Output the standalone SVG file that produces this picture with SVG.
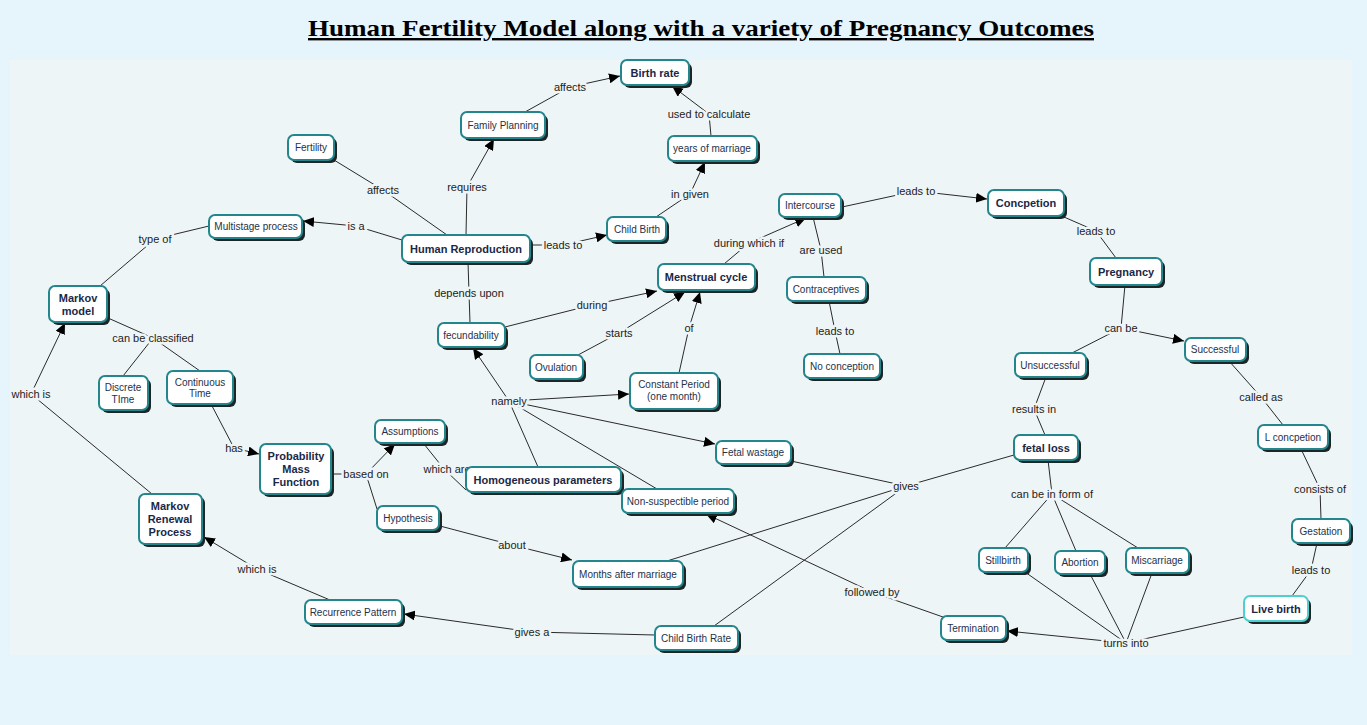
<svg xmlns="http://www.w3.org/2000/svg" width="1367" height="725" viewBox="0 0 1367 725">
<defs>
<marker id="ah" markerUnits="userSpaceOnUse" markerWidth="12" markerHeight="10" refX="11" refY="5" orient="auto"><path d="M0,0 L11,5 L0,10 z" fill="#000"/></marker>
<style>
.sh{fill:#1c2626}
.nd{fill:#fff;stroke:#23868c;stroke-width:2}
.lv{stroke:#4fcfd0}
.t{font-family:"Liberation Sans",Arial,sans-serif;font-size:10px;fill:#24324a;text-anchor:middle}
.b{font-family:"Liberation Sans",Arial,sans-serif;font-size:11px;font-weight:bold;fill:#1a2846;text-anchor:middle}
.c line,.c path{stroke:#2a2a2a;stroke-width:1;fill:none}
.a{marker-end:url(#ah)}
.l{font-family:"Liberation Sans",Arial,sans-serif;font-size:11px;fill:#222;text-anchor:middle;stroke:#eef5f7;stroke-width:5;stroke-linejoin:round;paint-order:stroke}
</style>
</defs>
<rect x="0" y="0" width="1367" height="725" fill="#e6f4fc"/>
<rect x="10" y="60" width="1342" height="595" fill="#eef5f7"/>
<text x="701" y="36" font-family="'Liberation Serif',serif" font-size="24" font-weight="bold" text-anchor="middle" text-decoration="underline" textLength="786" lengthAdjust="spacingAndGlyphs" fill="#000">Human Fertility Model along with a variety of Pregnancy Outcomes</text>

<g id="connectors" class="c">
<line x1="525" y1="112" x2="570" y2="87"/><line class="a" x1="570" y1="87" x2="620" y2="76"/>
<line x1="334" y1="160" x2="383" y2="190"/><line x1="383" y1="190" x2="447" y2="235"/>
<line x1="466" y1="235" x2="467" y2="187"/><line class="a" x1="467" y1="187" x2="494" y2="139"/>
<line x1="711" y1="136" x2="709" y2="114"/><line class="a" x1="709" y1="114" x2="672" y2="86"/>
<line x1="656" y1="217" x2="690" y2="194"/><line class="a" x1="690" y1="194" x2="705" y2="162"/>
<line x1="402" y1="240" x2="356" y2="226"/><line class="a" x1="356" y1="226" x2="303" y2="221"/>
<line x1="530" y1="245" x2="563" y2="245"/><line class="a" x1="563" y1="245" x2="607" y2="235"/>
<line x1="209" y1="226" x2="155" y2="239"/><line x1="155" y1="239" x2="100" y2="286"/>
<line x1="468" y1="262" x2="469" y2="293"/><line x1="469" y1="293" x2="470" y2="323"/>
<line x1="505" y1="327" x2="592" y2="305"/><line class="a" x1="592" y1="305" x2="657" y2="291"/>
<line x1="578" y1="355" x2="619" y2="333"/><line class="a" x1="619" y1="333" x2="685" y2="292"/>
<line x1="679" y1="373" x2="689" y2="328"/><line class="a" x1="689" y1="328" x2="700" y2="292"/>
<line x1="724" y1="264" x2="749" y2="243"/><line class="a" x1="749" y1="243" x2="806" y2="218"/>
<line x1="813" y1="217" x2="821" y2="250"/><line x1="821" y1="250" x2="824" y2="277"/>
<line x1="842" y1="207" x2="916" y2="191"/><line class="a" x1="916" y1="191" x2="987" y2="199"/>
<line x1="829" y1="301" x2="835" y2="331"/><line x1="835" y1="331" x2="840" y2="354"/>
<line x1="1064" y1="217" x2="1096" y2="231"/><line x1="1096" y1="231" x2="1116" y2="258"/>
<line x1="1125" y1="285" x2="1121" y2="328"/><line class="a" x1="1121" y1="328" x2="1184" y2="341"/><line x1="1121" y1="328" x2="1072" y2="353"/>
<line x1="1046" y1="377" x2="1034" y2="409"/><line x1="1034" y1="409" x2="1045" y2="435"/>
<line x1="1229" y1="361" x2="1261" y2="397"/><line x1="1261" y1="397" x2="1283" y2="425"/>
<line x1="1301" y1="449" x2="1320" y2="489"/><line x1="1320" y1="489" x2="1321" y2="519"/>
<line x1="1317" y1="543" x2="1311" y2="570"/><line x1="1311" y1="570" x2="1292" y2="596"/>
<line x1="108" y1="318" x2="153" y2="338"/><line x1="153" y1="338" x2="123" y2="376"/><line x1="153" y1="338" x2="200" y2="371"/>
<line x1="211" y1="404" x2="234" y2="448"/><line class="a" x1="234" y1="448" x2="259" y2="454"/>
<line x1="152" y1="494" x2="31" y2="394"/><line class="a" x1="31" y1="394" x2="65" y2="323"/>
<line x1="332" y1="474" x2="366" y2="474"/><line class="a" x1="366" y1="474" x2="395" y2="444"/><line x1="366" y1="474" x2="377" y2="509"/>
<line x1="424" y1="444" x2="444" y2="469"/><line x1="444" y1="469" x2="466" y2="490"/>
<line x1="538" y1="467" x2="509" y2="401"/><line class="a" x1="509" y1="401" x2="473" y2="348"/><line class="a" x1="509" y1="401" x2="629" y2="394"/><line class="a" x1="509" y1="401" x2="715" y2="444"/><line x1="509" y1="401" x2="657" y2="489"/>
<line x1="440" y1="526" x2="512" y2="545"/><line class="a" x1="512" y1="545" x2="572" y2="560"/>
<line x1="791" y1="461" x2="906" y2="486"/><line x1="1014" y1="455" x2="906" y2="486"/><line x1="906" y1="486" x2="667" y2="561"/><line x1="906" y1="486" x2="714" y2="626"/>
<line x1="943" y1="617" x2="872" y2="592"/><line class="a" x1="872" y1="592" x2="706" y2="514"/>
<line x1="655" y1="635" x2="532" y2="632"/><line class="a" x1="532" y1="632" x2="404" y2="614"/>
<line x1="330" y1="600" x2="257" y2="569"/><line class="a" x1="257" y1="569" x2="204" y2="537"/>
<line x1="1048" y1="460" x2="1052" y2="494"/><line x1="1052" y1="494" x2="1005" y2="548"/><line x1="1052" y1="494" x2="1076" y2="551"/><line x1="1052" y1="494" x2="1138" y2="548"/>
<line x1="1025" y1="572" x2="1126" y2="643"/><line x1="1090" y1="574" x2="1126" y2="643"/><line x1="1152" y1="573" x2="1126" y2="643"/><line x1="1244" y1="617" x2="1126" y2="643"/><line class="a" x1="1126" y1="643" x2="1007" y2="631"/>
</g>

<g id="labels">
<text class="l" x="570" y="91">affects</text>
<text class="l" x="383" y="194">affects</text>
<text class="l" x="467" y="191">requires</text>
<text class="l" x="709" y="118">used to calculate</text>
<text class="l" x="690" y="198">in given</text>
<text class="l" x="356" y="230">is a</text>
<text class="l" x="563" y="249">leads to</text>
<text class="l" x="155" y="243">type of</text>
<text class="l" x="469" y="297">depends upon</text>
<text class="l" x="592" y="309">during</text>
<text class="l" x="619" y="337">starts</text>
<text class="l" x="689" y="332">of</text>
<text class="l" x="749" y="247">during which if</text>
<text class="l" x="821" y="254">are used</text>
<text class="l" x="916" y="195">leads to</text>
<text class="l" x="835" y="335">leads to</text>
<text class="l" x="1096" y="235">leads to</text>
<text class="l" x="1121" y="332">can be</text>
<text class="l" x="1034" y="413">results in</text>
<text class="l" x="1261" y="401">called as</text>
<text class="l" x="1320" y="493">consists of</text>
<text class="l" x="1311" y="574">leads to</text>
<text class="l" x="153" y="342">can be classified</text>
<text class="l" x="234" y="452">has</text>
<text class="l" x="31" y="398">which is</text>
<text class="l" x="366" y="478">based on</text>
<text class="l" x="447" y="473">which are</text>
<text class="l" x="509" y="405">namely</text>
<text class="l" x="512" y="549">about</text>
<text class="l" x="906" y="490">gives</text>
<text class="l" x="872" y="596">followed by</text>
<text class="l" x="532" y="636">gives a</text>
<text class="l" x="257" y="573">which is</text>
<text class="l" x="1052" y="498">can be in form of</text>
<text class="l" x="1126" y="647">turns into</text>
</g>

<g id="n1"><rect class="sh" x="624" y="63" width="68" height="25" rx="6"/><rect class="nd" x="621" y="60" width="68" height="25" rx="6"/><text class="b" x="655" y="76.5">Birth rate</text></g>
<g id="n2"><rect class="sh" x="464" y="115" width="84" height="26" rx="6"/><rect class="nd" x="461" y="112" width="84" height="26" rx="6"/><text class="t" x="503" y="128.5">Family Planning</text></g>
<g id="n3"><rect class="sh" x="291" y="138" width="46" height="25" rx="6"/><rect class="nd" x="288" y="135" width="46" height="25" rx="6"/><text class="t" x="311" y="151">Fertility</text></g>
<g id="n4"><rect class="sh" x="671" y="139" width="89" height="25" rx="6"/><rect class="nd" x="668" y="136" width="89" height="25" rx="6"/><text class="t" x="712" y="152">years of marriage</text></g>
<g id="n5"><rect class="sh" x="212" y="218" width="93" height="23" rx="6"/><rect class="nd" x="209" y="215" width="93" height="23" rx="6"/><text class="t" x="256" y="230">Multistage process</text></g>
<g id="n6"><rect class="sh" x="405" y="238" width="128" height="27" rx="6"/><rect class="nd" x="402" y="235" width="128" height="27" rx="6"/><text class="b" x="466" y="252.5">Human Reproduction</text></g>
<g id="n7"><rect class="sh" x="610" y="220" width="59" height="24" rx="6"/><rect class="nd" x="607" y="217" width="59" height="24" rx="6"/><text class="t" x="637" y="232.5">Child Birth</text></g>
<g id="n8"><rect class="sh" x="782" y="197" width="62" height="23" rx="6"/><rect class="nd" x="779" y="194" width="62" height="23" rx="6"/><text class="t" x="810" y="209">Intercourse</text></g>
<g id="n9"><rect class="sh" x="991" y="193" width="76" height="26" rx="6"/><rect class="nd" x="988" y="190" width="76" height="26" rx="6"/><text class="b" x="1026" y="207">Concpetion</text></g>
<g id="n10"><rect class="sh" x="661" y="267" width="97" height="26" rx="6"/><rect class="nd" x="658" y="264" width="97" height="26" rx="6"/><text class="b" x="706" y="281">Menstrual cycle</text></g>
<g id="n11"><rect class="sh" x="1093" y="261" width="72" height="27" rx="6"/><rect class="nd" x="1090" y="258" width="72" height="27" rx="6"/><text class="b" x="1126" y="275.5">Pregnancy</text></g>
<g id="n12"><rect class="sh" x="52" y="289" width="58" height="36" rx="6"/><rect class="nd" x="49" y="286" width="58" height="36" rx="6"/><text class="b" x="78" y="302">Markov</text><text class="b" x="78" y="315">model</text></g>
<g id="n13"><rect class="sh" x="441" y="326" width="67" height="24" rx="6"/><rect class="nd" x="438" y="323" width="67" height="24" rx="6"/><text class="t" x="471" y="338.5">fecundability</text></g>
<g id="n14"><rect class="sh" x="790" y="280" width="79" height="24" rx="6"/><rect class="nd" x="787" y="277" width="79" height="24" rx="6"/><text class="t" x="826" y="292.5">Contraceptives</text></g>
<g id="n15"><rect class="sh" x="533" y="358" width="53" height="24" rx="6"/><rect class="nd" x="530" y="355" width="53" height="24" rx="6"/><text class="t" x="556" y="370.5">Ovulation</text></g>
<g id="n16"><rect class="sh" x="807" y="357" width="76" height="24" rx="6"/><rect class="nd" x="804" y="354" width="76" height="24" rx="6"/><text class="t" x="842" y="369.5">No conception</text></g>
<g id="n17"><rect class="sh" x="633" y="376" width="88" height="36" rx="6"/><rect class="nd" x="630" y="373" width="88" height="36" rx="6"/><text class="t" x="674" y="388">Constant Period</text><text class="t" x="674" y="400">(one month)</text></g>
<g id="n18"><rect class="sh" x="102" y="379" width="49" height="34" rx="6"/><rect class="nd" x="99" y="376" width="49" height="34" rx="6"/><text class="t" x="123" y="391">Discrete</text><text class="t" x="123" y="403">TIme</text></g>
<g id="n19"><rect class="sh" x="170" y="374" width="66" height="33" rx="6"/><rect class="nd" x="167" y="371" width="66" height="33" rx="6"/><text class="t" x="200" y="386">Continuous</text><text class="t" x="200" y="397">Time</text></g>
<g id="n20"><rect class="sh" x="1018" y="356" width="71" height="24" rx="6"/><rect class="nd" x="1015" y="353" width="71" height="24" rx="6"/><text class="t" x="1050" y="368.5">Unsuccessful</text></g>
<g id="n21"><rect class="sh" x="1188" y="341" width="61" height="23" rx="6"/><rect class="nd" x="1185" y="338" width="61" height="23" rx="6"/><text class="t" x="1215" y="353">Successful</text></g>
<g id="n22"><rect class="sh" x="378" y="423" width="70" height="23" rx="6"/><rect class="nd" x="375" y="420" width="70" height="23" rx="6"/><text class="t" x="410" y="435">Assumptions</text></g>
<g id="n23"><rect class="sh" x="719" y="444" width="75" height="23" rx="6"/><rect class="nd" x="716" y="441" width="75" height="23" rx="6"/><text class="t" x="753" y="456">Fetal wastage</text></g>
<g id="n24"><rect class="sh" x="1261" y="428" width="70" height="24" rx="6"/><rect class="nd" x="1258" y="425" width="70" height="24" rx="6"/><text class="t" x="1293" y="440.5">L concpetion</text></g>
<g id="n25"><rect class="sh" x="1017" y="438" width="64" height="25" rx="6"/><rect class="nd" x="1014" y="435" width="64" height="25" rx="6"/><text class="b" x="1046" y="451.5">fetal loss</text></g>
<g id="n26"><rect class="sh" x="263" y="447" width="71" height="50" rx="6"/><rect class="nd" x="260" y="444" width="71" height="50" rx="6"/><text class="b" x="296" y="460">Probability</text><text class="b" x="296" y="473">Mass</text><text class="b" x="296" y="486">Function</text></g>
<g id="n27"><rect class="sh" x="469" y="470" width="155" height="25" rx="6"/><rect class="nd" x="466" y="467" width="155" height="25" rx="6"/><text class="b" x="543" y="483.5">Homogeneous parameters</text></g>
<g id="n28"><rect class="sh" x="625" y="492" width="112" height="24" rx="6"/><rect class="nd" x="622" y="489" width="112" height="24" rx="6"/><text class="t" x="678" y="504.5">Non-suspectible period</text></g>
<g id="n29"><rect class="sh" x="142" y="497" width="63" height="50" rx="6"/><rect class="nd" x="139" y="494" width="63" height="50" rx="6"/><text class="b" x="170" y="510">Markov</text><text class="b" x="170" y="523">Renewal</text><text class="b" x="170" y="536">Process</text></g>
<g id="n30"><rect class="sh" x="380" y="509" width="62" height="24" rx="6"/><rect class="nd" x="377" y="506" width="62" height="24" rx="6"/><text class="t" x="408" y="521.5">Hypothesis</text></g>
<g id="n31"><rect class="sh" x="1295" y="522" width="58" height="24" rx="6"/><rect class="nd" x="1292" y="519" width="58" height="24" rx="6"/><text class="t" x="1321" y="534.5">Gestation</text></g>
<g id="n32"><rect class="sh" x="982" y="551" width="49" height="24" rx="6"/><rect class="nd" x="979" y="548" width="49" height="24" rx="6"/><text class="t" x="1003" y="563.5">Stillbirth</text></g>
<g id="n33"><rect class="sh" x="1058" y="554" width="50" height="23" rx="6"/><rect class="nd" x="1055" y="551" width="50" height="23" rx="6"/><text class="t" x="1080" y="566">Abortion</text></g>
<g id="n34"><rect class="sh" x="1129" y="551" width="63" height="25" rx="6"/><rect class="nd" x="1126" y="548" width="63" height="25" rx="6"/><text class="t" x="1157" y="564">Miscarriage</text></g>
<g id="n35"><rect class="sh" x="576" y="564" width="110" height="26" rx="6"/><rect class="nd" x="573" y="561" width="110" height="26" rx="6"/><text class="t" x="628" y="577.5">Months after marriage</text></g>
<g id="n36"><rect class="sh" x="1247" y="599" width="64" height="25" rx="6"/><rect class="nd lv" x="1244" y="596" width="64" height="25" rx="6"/><text class="b" x="1276" y="612.5">Live birth</text></g>
<g id="n37"><rect class="sh" x="308" y="603" width="97" height="24" rx="6"/><rect class="nd" x="305" y="600" width="97" height="24" rx="6"/><text class="t" x="353" y="615.5">Recurrence Pattern</text></g>
<g id="n38"><rect class="sh" x="944" y="619" width="65" height="24" rx="6"/><rect class="nd" x="941" y="616" width="65" height="24" rx="6"/><text class="t" x="973" y="631.5">Termination</text></g>
<g id="n39"><rect class="sh" x="658" y="629" width="83" height="24" rx="6"/><rect class="nd" x="655" y="626" width="83" height="24" rx="6"/><text class="t" x="696" y="641.5">Child Birth Rate</text></g>
</svg>
